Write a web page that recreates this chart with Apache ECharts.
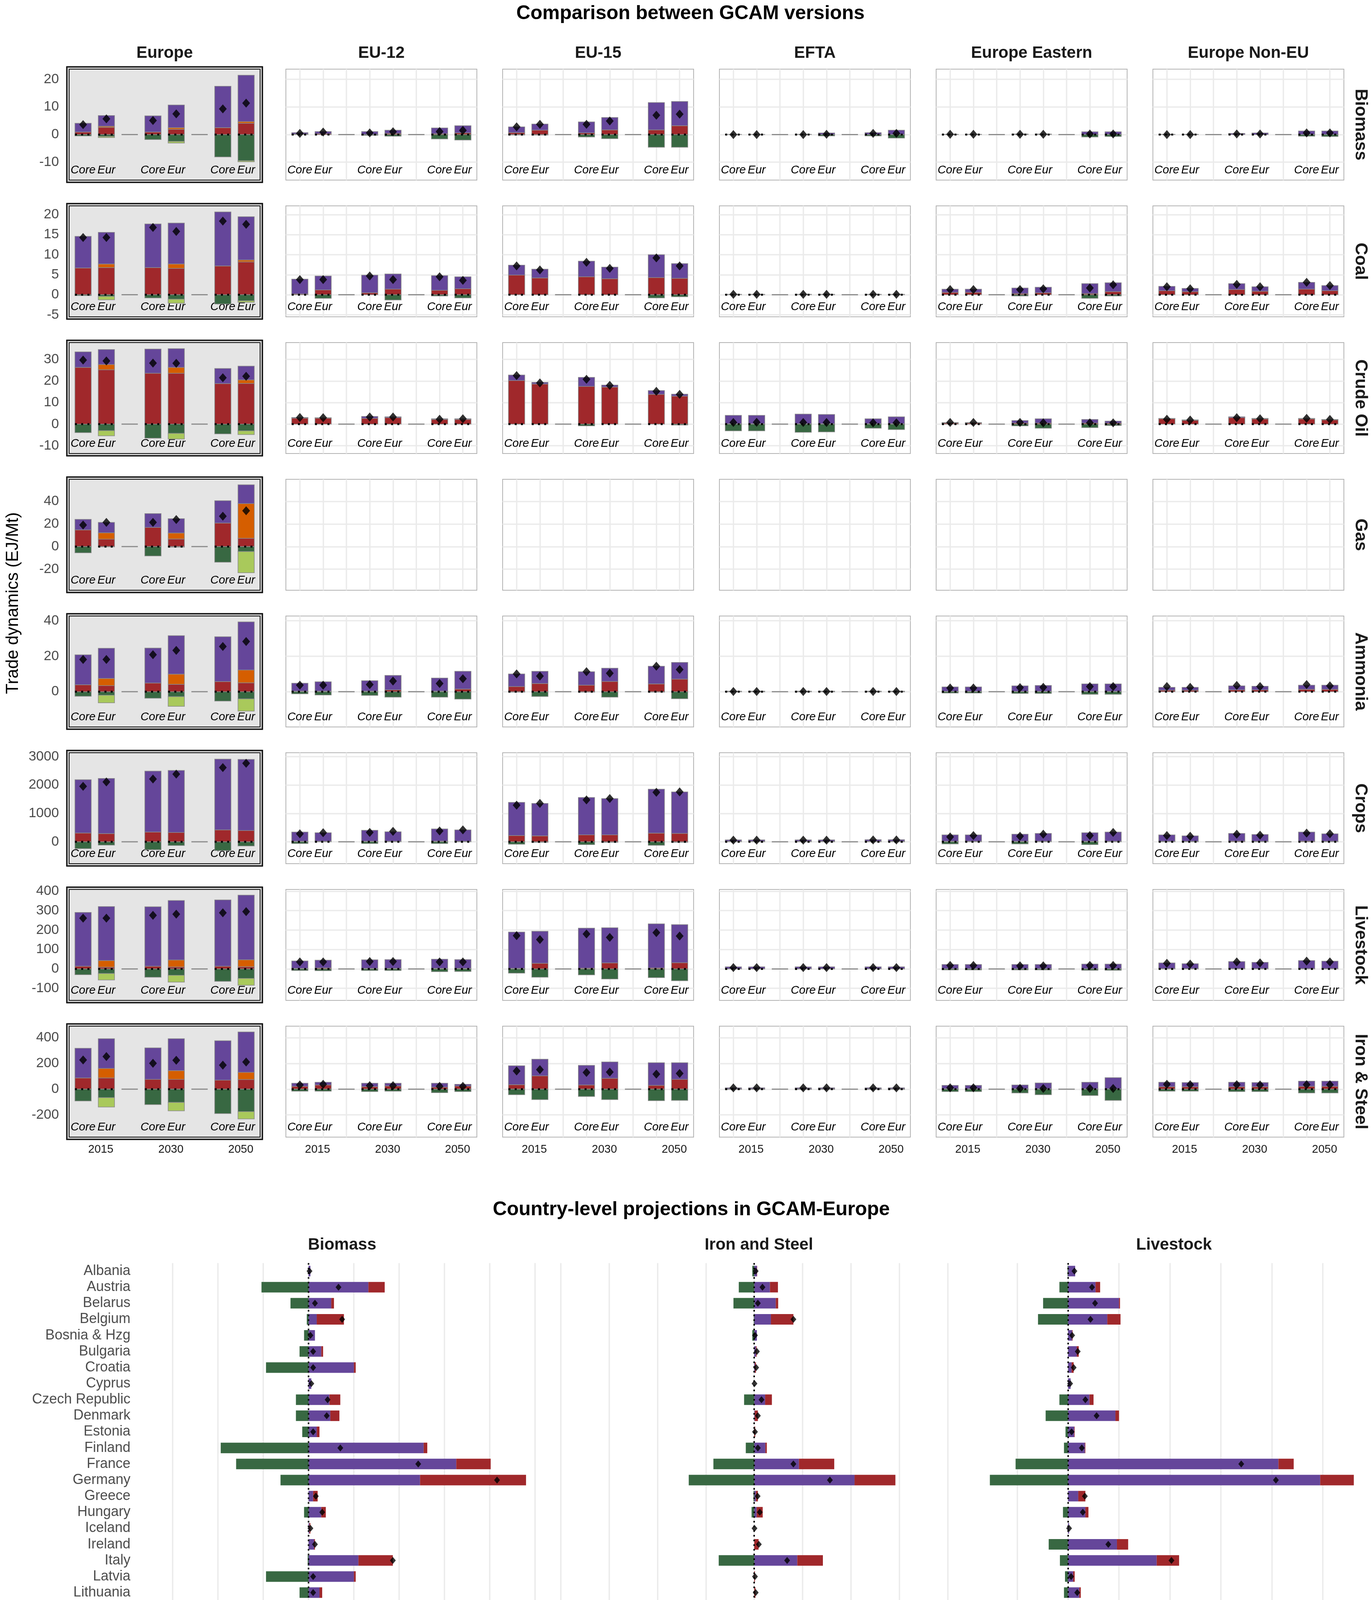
<!DOCTYPE html>
<html>
<head>
<meta charset="utf-8">
<title>Comparison between GCAM versions</title>
<script src="https://cdn.jsdelivr.net/npm/echarts@6.0.0/dist/echarts.min.js"></script>
<style>
  html, body { margin: 0; padding: 0; background: #fff; }
  #chart { width: 3513px; height: 5069px; }
</style>
</head>
<body>
<div id="chart"></div>
<script>
var regions = ["Europe", "EU-12", "EU-15", "EFTA", "Europe Eastern", "Europe Non-EU"];
var commodities = ["Biomass", "Coal", "Crude Oil", "Gas", "Ammonia", "Crops", "Livestock", "Iron & Steel"];
var years = ["2015", "2030", "2050"];
var versions = ["Core", "Eur"];
var flowNames = ["Domestic Production", "Exported intra-EEA", "Exported", "Imported intra-EEA", "Imported"];
var consName = "Domestic consumption";

// y range and tick labels of each facet row
var rowMin = [-16.5, -5.5, -13.6, -38.6, -19.9, -770, -162, -373];
var rowMax = [23.7, 22.2, 37.8, 59.5, 42.7, 3136, 409, 490];
var rowTicks = [[-10, 0, 10, 20], [-5, 0, 5, 10, 15, 20], [-10, 0, 10, 20, 30], [-20, 0, 20, 40],
                [0, 20, 40], [0, 1000, 2000, 3000], [-100, 0, 100, 200, 300, 400], [-200, 0, 200, 400]];

// rows follow `regions`, columns are Core/Eur in 2015, 2030, 2050
var biomassProd = [[3.2, 3.9, 5.9, 8.2, 15.0, 16.8], [0.5, 0.8, 1.1, 1.2, 2.1, 2.6], [2.1, 2.2, 4.0, 4.5, 9.9, 8.8], [0.05, 0.05, 0.1, 0.6, 0.7, 1.6], [0.1, 0.1, 0.2, 0.2, 1.0, 0.9], [0.1, 0.1, 0.4, 0.6, 1.3, 1.3]];
var biomassImp = [[0.9, 2.6, 0.9, 1.9, 2.5, 4.1], [0.2, 0.3, 0, 0.4, 0.3, 0.6], [0.7, 1.6, 0.6, 1.7, 1.7, 3.2], [0, 0, 0, 0, 0, 0], [0, 0, 0, 0, 0, 0.1], [0, 0, 0, 0, 0, 0]];
var biomassExp = [[-0.5, -0.7, -1.8, -2.5, -8.1, -9.5], [0, 0, -0.3, -0.6, -1.6, -2.0], [-0.2, -0.2, -0.9, -1.5, -4.6, -4.6], [0, 0, 0, -0.5, -0.5, -1.3], [0, 0, 0, 0, -0.9, -0.7], [0, 0, 0, 0, -0.6, -0.7]];
var biomassCons = [[3.6, 5.7, 5.1, 7.5, 9.3, 11.4], [0.4, 0.9, 0.6, 1.0, 1.1, 1.5], [2.8, 3.7, 3.7, 4.9, 7.0, 7.4], [0, 0, 0, 0.1, 0.4, 0.4], [0.1, 0.1, 0.1, 0.1, 0.2, 0.2], [0, 0, 0.2, 0.2, 0.6, 0.6]];

var coalProd = [[7.9, 7.9, 10.9, 10.2, 13.5, 10.8], [3.7, 3.5, 4.4, 3.8, 3.7, 3.0], [2.5, 2.2, 3.9, 2.9, 5.7, 3.7], [0.02, 0.02, 0.02, 0.02, 0.02, 0.02], [0.8, 0.8, 1.4, 1.4, 2.5, 2.2], [1.1, 0.8, 1.5, 1.1, 1.7, 1.3]];
var coalImp = [[6.7, 6.8, 6.8, 6.6, 7.2, 8.2], [0.2, 1.2, 0.5, 1.4, 1.1, 1.5], [4.9, 4.2, 4.5, 4.0, 4.3, 4.1], [0.1, 0.1, 0.1, 0.1, 0.1, 0.1], [0.6, 0.6, 0.3, 0.5, 0.3, 0.8], [1.0, 0.8, 1.3, 0.9, 1.4, 1.0]];
var coalExp = [[-0.2, -0.4, -0.8, -1.1, -2.3, -1.5], [0, -0.9, 0, -1.3, -0.3, -0.8], [0, 0, 0, 0, -0.8, -0.5], [0, 0, 0, 0, 0, 0], [0, 0, -0.3, 0, -0.9, -0.3], [0, 0, 0, 0, 0, 0]];
var coalCons = [[14.3, 14.3, 16.8, 15.8, 18.4, 17.6], [3.8, 3.8, 4.7, 3.8, 4.5, 3.6], [7.2, 6.2, 8.1, 6.6, 9.2, 7.2], [0.1, 0.1, 0.1, 0.1, 0.1, 0.1], [1.3, 1.3, 1.3, 1.5, 1.7, 2.5], [2.0, 1.5, 2.6, 2.0, 3.1, 2.3]];

var crudeProd = [[7.2, 7.0, 11.2, 8.7, 7.0, 6.4], [0.3, 0.2, 0.9, 0.4, 0.3, 0.3], [2.6, 0.8, 4.2, 0.9, 1.8, 0.9], [3.9, 3.9, 4.5, 4.3, 2.3, 3.2], [0.3, 0.3, 1.2, 2.0, 1.7, 0.9], [0.2, 0.2, 0.4, 0.3, 0.3, 0.2]];
var crudeImp = [[26.3, 25.2, 23.6, 23.6, 18.8, 18.9], [2.8, 2.8, 2.7, 3.0, 2.2, 2.2], [20.2, 18.6, 17.5, 17.2, 13.8, 13.0], [0.2, 0.2, 0.2, 0.2, 0.2, 0.2], [0.5, 0.5, 0.5, 0.5, 0.5, 0.5], [2.5, 1.8, 3.0, 2.4, 2.4, 2.0]];
var crudeExp = [[-3.9, -3.0, -6.5, -4.3, -4.5, -3.1], [0, 0, 0, 0, 0, 0], [0, 0, -0.8, 0, 0, -0.4], [-3.1, -3.1, -3.8, -3.6, -1.9, -2.5], [0, 0, -0.8, -1.9, -1.6, -0.6], [0, 0, 0, 0, 0, 0]];
var crudeCons = [[29.7, 29.3, 28.3, 28.2, 21.5, 22.2], [3.1, 3.0, 3.3, 3.3, 2.3, 2.5], [22.5, 19.1, 20.8, 18.0, 15.2, 13.8], [0.8, 0.9, 0.8, 0.8, 0.6, 0.6], [0.8, 0.8, 0.8, 0.6, 0.6, 0.6], [2.3, 1.9, 3.0, 2.5, 2.7, 2.2]];

var gasProd = [[9.3, 9.2, 12.3, 12.7, 19.8, 16.7], [], [], [], [], []];
var gasImp = [[14.8, 6.6, 16.9, 6.7, 20.8, 7.3], [], [], [], [], []];
var gasExp = [[-5.5, -0.3, -8.3, -0.5, -13.8, -4.4], [], [], [], [], []];
var gasCons = [[19.1, 21.4, 21.4, 23.9, 26.9, 31.7], [], [], [], [], []];

var ammoniaProd = [[16.9, 17.0, 19.7, 21.7, 25.3, 27.2], [4.5, 5.3, 5.9, 8.2, 7.4, 10.0], [7.1, 6.9, 7.6, 7.5, 10.0, 9.4], [0.2, 0.2, 0.2, 0.2, 0.2, 0.2], [2.5, 2.5, 3.1, 3.3, 4.2, 4.2], [1.7, 1.7, 2.3, 2.1, 2.4, 2.4]];
var ammoniaImp = [[3.9, 3.4, 4.9, 4.2, 5.7, 5.0], [0.3, 0.3, 0.3, 1.0, 0.3, 1.5], [2.9, 4.6, 3.7, 5.8, 4.4, 7.1], [0.1, 0.1, 0.1, 0.1, 0.1, 0.1], [0.2, 0.2, 0.2, 0.2, 0.2, 0.2], [0.8, 0.8, 1.0, 1.0, 1.3, 1.3]];
var ammoniaExp = [[-2.6, -2.0, -3.7, -2.8, -5.3, -4.1], [-1.2, -1.9, -2.1, -3.1, -3.1, -4.2], [-0.3, -2.7, -0.3, -3.1, -0.3, -4.0], [-0.1, -0.1, -0.1, -0.1, -0.1, -0.1], [-0.8, -0.8, -1.0, -1.0, -1.5, -1.5], [0, 0, 0, 0, 0, 0]];
var ammoniaCons = [[18.2, 18.2, 20.9, 23.3, 25.5, 28.3], [3.7, 3.7, 4.0, 6.0, 4.6, 7.3], [10.0, 8.8, 11.3, 10.4, 14.4, 12.5], [0.1, 0.1, 0.1, 0.1, 0.1, 0.1], [2.1, 2.1, 2.3, 2.5, 2.9, 2.9], [2.9, 2.5, 3.5, 2.9, 4.0, 3.3]];

var cropsProd = [[1879, 1940, 2144, 2187, 2495, 2508], [324, 299, 385, 336, 430, 398], [1167, 1142, 1314, 1277, 1548, 1462], [50, 50, 50, 50, 55, 55], [226, 226, 250, 275, 299, 324], [226, 189, 270, 238, 319, 263]];
var cropsImp = [[308, 290, 345, 327, 419, 394], [20, 20, 20, 20, 25, 20], [221, 209, 246, 246, 307, 295], [20, 20, 20, 20, 20, 20], [20, 20, 20, 20, 20, 20], [20, 20, 25, 20, 25, 20]];
var cropsExp = [[-240, -117, -277, -129, -308, -148], [-60, 0, -60, 0, -60, 0], [-86, -20, -98, -20, -123, -20], [0, 0, 0, 0, 0, 0], [-74, 0, -74, 0, -98, 0], [0, 0, 0, 0, 0, 0]];
var cropsCons = [[1953, 2107, 2212, 2384, 2612, 2766], [283, 319, 332, 369, 381, 418], [1290, 1351, 1474, 1523, 1744, 1757], [60, 60, 60, 60, 65, 65], [172, 221, 197, 270, 221, 332], [221, 197, 270, 233, 307, 283]];

var livestockProd = [[277, 278, 306, 306, 341, 333], [38, 40, 44, 45, 47, 45], [187, 165, 206, 181, 227, 196], [10, 10, 10, 10, 10, 10], [22, 22, 22, 22, 24, 24], [29, 25, 36, 32, 41, 38]];
var livestockImp = [[14, 9, 14, 10, 14, 11], [3, 5, 3, 3, 3, 3], [3, 29, 4, 31, 5, 32], [1, 1, 1, 1, 1, 1], [1, 1, 1, 1, 1, 1], [2, 2, 2, 2, 2, 2]];
var livestockExp = [[-30, -24, -43, -33, -64, -49], [-8, -9, -8, -8, -14, -13], [-22, -43, -31, -52, -45, -61], [0, 0, 0, 0, 0, 0], [-5, -5, -5, -5, -7, -7], [0, 0, 0, 0, 0, 0]];
var livestockCons = [[261, 261, 276, 282, 289, 295], [36, 36, 38, 38, 36, 36], [171, 151, 180, 162, 187, 169], [7, 7, 7, 7, 7, 7], [18, 18, 16, 16, 18, 18], [29, 25, 36, 31, 40, 36]];

var ironProd = [[231, 232, 245, 249, 307, 314], [24, 21, 26, 21, 31, 14], [147, 130, 152, 128, 176, 130], [8, 8, 8, 8, 8, 8], [27, 27, 30, 46, 51, 87], [35, 33, 35, 33, 40, 40]];
var ironImp = [[87, 87, 76, 76, 70, 75], [22, 33, 20, 25, 15, 24], [35, 103, 33, 84, 30, 76], [3, 3, 3, 3, 3, 3], [3, 3, 3, 3, 3, 3], [19, 19, 19, 19, 22, 22]];
var ironExp = [[-92, -66, -120, -103, -190, -175], [-16, -16, -19, -16, -27, -19], [-43, -81, -57, -81, -90, -87], [-2, -2, -2, -2, -2, -2], [-19, -19, -30, -43, -49, -87], [-16, -16, -19, -19, -30, -30]];
var ironCons = [[227, 254, 201, 225, 187, 211], [33, 38, 27, 27, 22, 22], [141, 152, 130, 133, 117, 122], [10, 10, 10, 10, 10, 10], [11, 11, 5, 5, 5, 5], [38, 35, 35, 33, 35, 35]];

// intra-EEA flows only exist for the Europe aggregate (rows follow `commodities`)
var impIntraEurope = [[0, 0.4, 0, 0.6, 0, 0.6], [0, 0.9, 0, 1.1, 0, 0.5], [0, 2.4, 0, 2.7, 0, 1.6], [0, 5.6, 0, 5.3, 0, 30.7],
                      [0, 4.1, 0, 5.7, 0, 7.2], [0, 0, 0, 0, 0, 0], [0, 34, 0, 36, 0, 36], [0, 74, 0, 68, 0, 56]];
var expIntraEurope = [[0, -0.4, 0, -0.6, 0, -0.4], [0, -0.85, 0, -1.0, 0, -0.4], [0, -2.4, 0, -2.6, 0, -1.7], [0, 0, 0, 0, 0, -18.7],
                      [0, -4.3, 0, -5.5, 0, -6.9], [0, 0, 0, 0, 0, 0], [0, -33, 0, -35, 0, -35], [0, -73, 0, -66, 0, -57]];

// country level projections in GCAM-Europe
var countries = ["Albania", "Austria", "Belarus", "Belgium", "Bosnia & Hzg", "Bulgaria", "Croatia", "Cyprus", "Czech Republic",
  "Denmark", "Estonia", "Finland", "France", "Germany", "Greece", "Hungary", "Iceland", "Ireland", "Italy", "Latvia",
  "Lithuania", "Luxembourg", "Macedonia", "Malta", "Moldova", "Netherlands", "Norway", "Poland", "Portugal", "Romania",
  "Slovakia", "Slovenia", "Spain", "Srb & Mne", "Sweden", "Switzerland", "Turkey", "Ukraine", "United Kingdom"];

var bioCtyProd = [0.02, 0.66, 0.25, 0.09, 0.07, 0.14, 0.50, 0.03, 0.23, 0.24, 0.09, 1.27, 1.63, 1.23, 0.05, 0.14, 0.01, 0.06, 0.55, 0.50,
  0.12, 0.01, 0.02, 0, 0.03, 0.32, 1.40, 0.73, 0.04, 0.36, 0.15, 0.12, 0.37, 0.16, 2.22, 0.16, 0.60, 0.59, 1.52];
var bioCtyImp = [0, 0.18, 0.03, 0.30, 0, 0.02, 0.02, 0, 0.12, 0.10, 0.03, 0.04, 0.38, 1.17, 0.05, 0.05, 0.01, 0.01, 0.38, 0.02,
  0.03, 0.02, 0, 0.02, 0.015, 0.18, 0.02, 0.19, 0.10, 0.08, 0.03, 0.03, 0.27, 0.04, 0.09, 0.03, 0.21, 0.09, 0.29];
var bioCtyExp = [0, -0.52, -0.20, -0.02, -0.05, -0.10, -0.47, 0, -0.14, -0.14, -0.07, -0.97, -0.80, -0.31, 0, -0.05, 0, 0, -0.01, -0.47,
  -0.10, 0, 0, 0, -0.03, -0.09, -1.21, -0.49, -0.01, -0.31, -0.11, -0.11, -0.05, -0.10, -1.66, -0.04, -0.31, -0.47, -0.55];
var bioCtyCons = [0.01, 0.33, 0.07, 0.37, 0.02, 0.05, 0.05, 0.03, 0.21, 0.20, 0.05, 0.35, 1.21, 2.08, 0.08, 0.15, 0.02, 0.07, 0.93, 0.05,
  0.05, 0.03, 0.01, 0.02, 0.02, 0.41, 0.20, 0.44, 0.14, 0.13, 0.06, 0.04, 0.58, 0.10, 0.66, 0.15, 0.49, 0.20, 1.25];

var ironCtyProd = [1.1, 6.5, 8.9, 6.9, 1.1, 0.7, 0.3, 0, 4.5, 0.2, 0, 4.6, 18.5, 41.5, 0.7, 1.0, 0, 0, 17.8, 0,
  0, 3.8, 0.3, 0, 1.9, 5.2, 0.3, 10.0, 1.8, 2.7, 1.8, 0, 13.8, 1.7, 6.4, 5.2, 42.3, 77.4, 20.7];
var ironCtyImp = [0.1, 3.3, 1.0, 9.3, 0, 0.3, 0.4, 0, 2.8, 1.3, 0.4, 0.6, 14.6, 16.9, 0.8, 2.5, 0, 1.8, 10.6, 0.3,
  0.5, 1.8, 0.3, 0, 0, 4.7, 1.9, 5.9, 1.4, 3.3, 1.1, 0.6, 6.4, 1.7, 2.9, 2.1, 17.7, 0.2, 11.5];
var ironCtyExp = [-0.8, -6.4, -8.6, -0.2, -0.8, 0, 0, 0, -4.2, 0, 0, -3.5, -16.9, -27.1, -0.3, -1.1, 0, 0, -14.7, 0,
  0, 0, 0, 0, -1.5, 0, -0.9, -7.1, 0, -2.3, 0, 0, -9.5, -1.6, -4.6, -4.8, -25.9, -74.2, -14.4];
var ironCtyCons = [0.6, 3.4, 1.5, 16.2, 0.3, 1.1, 0.8, 0.1, 3.0, 1.5, 0.3, 1.5, 16.2, 31.3, 1.4, 2.3, 0.1, 1.9, 13.6, 0.3,
  0.6, 5.5, 0.5, 0.1, 0.3, 9.9, 1.1, 8.7, 3.2, 3.6, 2.8, 0.7, 10.7, 1.7, 4.5, 2.6, 34.2, 3.6, 17.8];

var lsCtyProd = [1.4, 5.4, 10.0, 7.7, 0.8, 1.7, 0.7, 0.5, 4.2, 9.3, 1.2, 3.3, 41.3, 49.5, 2.0, 3.4, 0.2, 9.6, 17.4, 1.0,
  2.2, 0.7, 0.6, 0.1, 0.8, 21.4, 2.6, 19.4, 3.5, 6.3, 1.5, 1.1, 17.4, 2.9, 4.4, 5.8, 33.9, 13.9, 25.4];
var lsCtyImp = [0, 0.9, 0.2, 2.6, 0.1, 0.4, 0.4, 0, 0.8, 0.7, 0.1, 0.1, 3.0, 6.6, 1.4, 0.6, 0, 2.2, 4.4, 0.3,
  0.3, 0, 0, 0, 0.1, 5.4, 0.1, 1.7, 0.5, 0.6, 0.5, 0.05, 2.2, 0.2, 1.1, 0.15, 0.7, 0.15, 4.5];
var lsCtyExp = [-0.1, -1.7, -4.9, -5.9, 0, 0, 0, 0, -1.7, -4.4, -0.5, -0.8, -10.3, -15.35, 0, -1.0, 0, -3.8, -1.6, -0.6,
  -0.8, -0.5, 0, 0, 0, -10.1, 0, -5.7, -0.8, -0.3, -0.5, -0.5, -2.9, 0, -1.0, -0.5, -1.5, -1.6, -5.2];
var lsCtyCons = [1.25, 4.7, 5.3, 4.4, 0.8, 1.9, 1.1, 0.4, 3.4, 5.6, 0.7, 2.7, 34.0, 40.8, 3.3, 2.9, 0.2, 7.9, 20.3, 0.6,
  1.8, 0.2, 0.6, 0.15, 0.8, 16.7, 2.6, 15.4, 3.2, 6.5, 1.4, 0.6, 16.7, 2.8, 4.4, 5.4, 33.2, 12.4, 24.6];

// x tick labels and grid lines of the country panels
var bioTicks = [-1, 0, 1, 2];
var bioGrid = [-1.5, -1, -0.5, 0, 0.5, 1, 1.5, 2, 2.5];
var ironTicks = [-80, -40, 0, 40, 80];
var ironGrid = [-80, -60, -40, -20, 0, 20, 40, 60, 80];
var lsTicks = [0, 20, 40];
var lsGrid = [-10, 0, 10, 20, 30, 40, 50];

var FONT = '"Liberation Sans", Arial, Helvetica, sans-serif';
var colors = { prod: "#65469a", expIntra: "#a9c95b", exp: "#386842", impIntra: "#d55e00", imp: "#a0282b" };

var prodByRow = [biomassProd, coalProd, crudeProd, gasProd, ammoniaProd, cropsProd, livestockProd, ironProd];
var impByRow = [biomassImp, coalImp, crudeImp, gasImp, ammoniaImp, cropsImp, livestockImp, ironImp];
var expByRow = [biomassExp, coalExp, crudeExp, gasExp, ammoniaExp, cropsExp, livestockExp, ironExp];
var consByRow = [biomassCons, coalCons, crudeCons, gasCons, ammoniaCons, cropsCons, livestockCons, ironCons];

// x slots: Core, Eur, (gap), Core, Eur, (gap), Core, Eur
var barSlots = [0, 1, 3, 4, 6, 7];
var allSlots = [0, 1, 2, 3, 4, 5, 6, 7];
var yearSlots = [0.76, 3.77, 6.77];
var halfBar = 0.35;

var colLeft = [177, 732, 1287, 1842, 2397, 2952];
var panelW = 489, panelH = 284, panelTop0 = 177, panelStep = 350;

var grids = [], xAxes = [], yAxes = [], series = [], graphics = [];

function plainNumber(v) { return String(v); }

function stackRect(params, api) {
  var x = api.value(0);
  var a = api.coord([x - halfBar, api.value(1)]);
  var b = api.coord([x + halfBar, api.value(2)]);
  return {
    type: "rect",
    shape: { x: a[0], y: Math.min(a[1], b[1]), width: b[0] - a[0], height: Math.abs(a[1] - b[1]) },
    style: { fill: api.visual("color"), stroke: "#8c8c8c", lineWidth: 1.5 }
  };
}

function zeroMarker(params, api) {
  var x = api.value(0), isBar = api.value(1) === 1;
  var a = api.coord([x - halfBar, 0]);
  var b = api.coord([x + halfBar, 0]);
  return {
    type: "line",
    shape: { x1: a[0], y1: a[1], x2: b[0], y2: b[1] },
    style: isBar ? { stroke: "#000", lineWidth: 5, lineDash: [5, 11] } : { stroke: "#8c8c8c", lineWidth: 3 }
  };
}

commodities.forEach(function (com, r) {
  var top = panelTop0 + r * panelStep;
  regions.forEach(function (reg, c) {
    var gi = grids.length, xi = xAxes.length, yi = yAxes.length;
    var isEu = c === 0;
    var prod = prodByRow[r][c] || [];
    var hasData = prod.length > 0;

    grids.push({
      left: colLeft[c], top: top, width: panelW, height: panelH, show: true,
      backgroundColor: isEu ? "#e5e5e5" : "#ffffff",
      borderColor: isEu ? "#000000" : "#b3b3b3", borderWidth: 2
    });
    xAxes.push({
      gridIndex: gi, type: "value", min: -0.6, max: 7.6, position: "bottom",
      axisLine: { show: false, onZero: false },
      axisTick: { show: false, customValues: allSlots },
      splitLine: { show: !isEu, lineStyle: { color: "#ebebeb", width: 3.5 } },
      axisLabel: {
        show: hasData, inside: true, margin: 10, customValues: barSlots,
        fontSize: 29.5, fontStyle: "italic", color: "#000", fontFamily: FONT,
        formatter: function (v) { return versions[Math.round(v) % 3]; }
      }
    });
    yAxes.push({
      gridIndex: gi, type: "value", min: rowMin[r], max: rowMax[r],
      axisLine: { show: false, onZero: false },
      axisTick: { show: false, customValues: rowTicks[r] },
      splitLine: { show: !isEu, lineStyle: { color: "#ebebeb", width: 3.5 } },
      axisLabel: { show: isEu, customValues: rowTicks[r], formatter: plainNumber, fontSize: 35, color: "#4d4d4d", margin: 26, fontFamily: FONT }
    });
    if (r === commodities.length - 1) {
      xAxes.push({
        gridIndex: gi, type: "value", min: -0.6, max: 7.6, position: "bottom",
        axisLine: { show: false, onZero: false },
        axisTick: { show: false, customValues: yearSlots },
        splitLine: { show: false },
        axisLabel: {
          customValues: yearSlots, fontSize: 29, color: "#1a1a1a", margin: 17, fontFamily: FONT,
          formatter: function (v) { return years[Math.floor(v / 3)]; }
        }
      });
    }
    if (isEu) {
      graphics.push({ type: "rect", z: 100, silent: true, shape: { x: colLeft[c] - 3.5, y: top - 3.5, width: panelW + 7, height: panelH + 7 },
        style: { fill: "none", stroke: "#a8a8a8", lineWidth: 2 } });
      graphics.push({ type: "rect", z: 100, silent: true, shape: { x: colLeft[c] - 6, y: top - 6, width: panelW + 12, height: panelH + 12 },
        style: { fill: "none", stroke: "#000", lineWidth: 3 } });
    }
    if (!hasData) return;

    // stacking order: imports up from zero, then production; exports down from zero
    var flows = [
      { name: flowNames[4], color: colors.imp, vals: impByRow[r][c] },
      { name: flowNames[3], color: colors.impIntra, vals: isEu ? impIntraEurope[r] : null },
      { name: flowNames[0], color: colors.prod, vals: prod },
      { name: flowNames[2], color: colors.exp, vals: expByRow[r][c] },
      { name: flowNames[1], color: colors.expIntra, vals: isEu ? expIntraEurope[r] : null }
    ];
    var posSum = [0, 0, 0, 0, 0, 0], negSum = [0, 0, 0, 0, 0, 0];
    flows.forEach(function (f) {
      if (!f.vals) return;
      var data = [];
      barSlots.forEach(function (s, k) {
        var v = f.vals[k];
        if (!v) return;
        if (v > 0) { data.push([s, posSum[k], posSum[k] + v]); posSum[k] += v; }
        else { data.push([s, negSum[k], negSum[k] + v]); negSum[k] += v; }
      });
      series.push({
        type: "custom", name: f.name, xAxisIndex: xi, yAxisIndex: yi, silent: true, z: 2,
        itemStyle: { color: f.color }, renderItem: stackRect, data: data
      });
    });
    series.push({
      type: "custom", xAxisIndex: xi, yAxisIndex: yi, silent: true, z: 3, renderItem: zeroMarker,
      data: allSlots.map(function (s) { return [s, barSlots.indexOf(s) >= 0 ? 1 : 0]; })
    });
    series.push({
      type: "scatter", name: consName, xAxisIndex: xi, yAxisIndex: yi, silent: true, z: 4,
      symbol: "diamond", symbolSize: [20, 23], itemStyle: { color: "#000" },
      data: barSlots.map(function (s, k) { return [s, consByRow[r][c][k]]; })
    });
  });

  graphics.push({ type: "text", x: 3483, y: top + panelH / 2, rotation: -Math.PI / 2, silent: true,
    style: { text: com, fontSize: 44, fontWeight: "bold", fontFamily: FONT, fill: "#1a1a1a", align: "center", verticalAlign: "middle" } });
});

regions.forEach(function (reg, c) {
  graphics.push({ type: "text", x: colLeft[c] + panelW / 2, y: 136, silent: true,
    style: { text: reg, fontSize: 42, fontWeight: "bold", fontFamily: FONT, fill: "#1a1a1a", align: "center", verticalAlign: "middle" } });
});

// country panels
var ctyPanels = [
  { title: "Biomass", unit: "EJ", prod: bioCtyProd, imp: bioCtyImp, exp: bioCtyExp, cons: bioCtyCons, min: -1.863, max: 2.603, ticks: bioTicks, grid: bioGrid },
  { title: "Iron and Steel", unit: "Mt", prod: ironCtyProd, imp: ironCtyImp, exp: ironCtyExp, cons: ironCtyCons, min: -81.8, max: 85.6, ticks: ironTicks, grid: ironGrid },
  { title: "Livestock", unit: "Mt", prod: lsCtyProd, imp: lsCtyImp, exp: lsCtyExp, cons: lsCtyCons, min: -18.92, max: 59.67, ticks: lsTicks, grid: lsGrid }
];
var ctyLeft = [358, 1425, 2488], ctyW = 1036, ctyTop = 3233.4, ctyH = 1605;

function orNull(v) { return v ? v : null; }

ctyPanels.forEach(function (p, k) {
  var gi = grids.length, xi = xAxes.length, yi = yAxes.length;
  grids.push({ left: ctyLeft[k], top: ctyTop, width: ctyW, height: ctyH, show: false });
  xAxes.push({
    gridIndex: gi, type: "value", min: p.min, max: p.max, position: "bottom",
    name: p.unit, nameLocation: "middle", nameGap: 49,
    nameTextStyle: { fontSize: 36, color: "#000", fontFamily: FONT },
    axisLine: { show: false, onZero: false },
    axisTick: { show: false, customValues: p.grid },
    splitLine: { show: true, lineStyle: { color: "#ebebeb", width: 3.5 } },
    axisLabel: { customValues: p.ticks, formatter: plainNumber, fontSize: 34, color: "#4d4d4d", margin: 20, fontFamily: FONT }
  });
  yAxes.push({
    gridIndex: gi, type: "category", data: countries, inverse: true,
    axisLine: { show: false, onZero: false }, axisTick: { show: false }, splitLine: { show: false },
    axisLabel: { show: k === 0, interval: 0, fontSize: 36, color: "#4d4d4d", margin: 24, fontFamily: FONT }
  });
  [
    { name: flowNames[0], color: colors.prod, vals: p.prod },
    { name: flowNames[4], color: colors.imp, vals: p.imp },
    { name: flowNames[2], color: colors.exp, vals: p.exp }
  ].forEach(function (f) {
    series.push({
      type: "bar", name: f.name, xAxisIndex: xi, yAxisIndex: yi, stack: "cty" + k, barWidth: 27, silent: true, z: 2,
      itemStyle: { color: f.color }, data: f.vals.map(orNull)
    });
  });
  series.push({
    type: "scatter", name: consName, xAxisIndex: xi, yAxisIndex: yi, silent: true, z: 4,
    symbol: "diamond", symbolSize: [15, 18], itemStyle: { color: "#000" },
    data: p.cons.map(function (v, i) { return [v, i]; }),
    markLine: {
      silent: true, symbol: ["none", "none"], label: { show: false },
      lineStyle: { color: "#000", type: [4, 8], width: 4 }, data: [{ xAxis: 0 }]
    }
  });
  graphics.push({ type: "text", x: ctyLeft[k] + ctyW / 2, y: 3187, silent: true,
    style: { text: p.title, fontSize: 42, fontWeight: "bold", fontFamily: FONT, fill: "#1a1a1a", align: "center", verticalAlign: "middle" } });
});

graphics.push({ type: "text", x: 1768, y: 35, silent: true,
  style: { text: "Comparison between GCAM versions", fontSize: 50, fontWeight: "bold", fontFamily: FONT, fill: "#000", align: "center", verticalAlign: "middle" } });
graphics.push({ type: "text", x: 1770, y: 3097, silent: true,
  style: { text: "Country-level projections in GCAM-Europe", fontSize: 50, fontWeight: "bold", fontFamily: FONT, fill: "#000", align: "center", verticalAlign: "middle" } });
graphics.push({ type: "text", x: 34, y: 1544, rotation: Math.PI / 2, silent: true,
  style: { text: "Trade dynamics (EJ/Mt)", fontSize: 44, fontFamily: FONT, fill: "#000", align: "center", verticalAlign: "middle" } });
graphics.push({ type: "text", x: 199, y: 5033, silent: true,
  style: { text: "System flows", fontSize: 43, fontFamily: FONT, fill: "#000", align: "left", verticalAlign: "middle" } });

var chart = echarts.init(document.getElementById("chart"), null, { renderer: "canvas" });
chart.setOption({
  animation: false,
  backgroundColor: "#ffffff",
  textStyle: { fontFamily: FONT },
  grid: grids,
  xAxis: xAxes,
  yAxis: yAxes,
  legend: [
    {
      data: flowNames, left: 497, top: 5002, orient: "horizontal",
      icon: "rect", itemWidth: 51, itemHeight: 52, itemGap: 22, selectedMode: false,
      itemStyle: { borderWidth: 0 },
      textStyle: { fontSize: 42, color: "#000", fontFamily: FONT, padding: [0, 0, 0, 23] }
    },
    {
      data: [consName], left: 2493, top: 5002, align: "right", selectedMode: false,
      icon: "diamond", itemWidth: 24, itemHeight: 32,
      textStyle: { fontSize: 43, color: "#000", fontFamily: FONT, padding: [0, 40, 0, 0] }
    }
  ],
  graphic: graphics,
  series: series
});
</script>
</body>
</html>
